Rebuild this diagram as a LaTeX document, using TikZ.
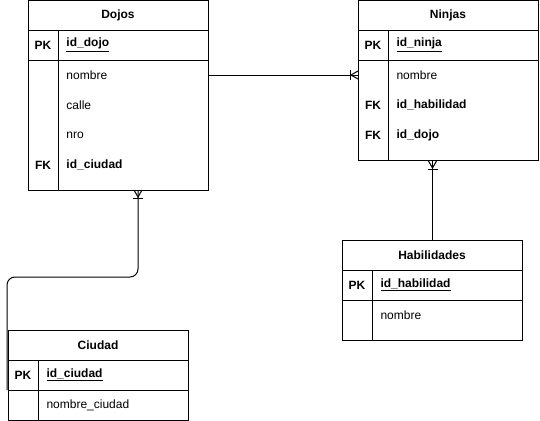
\documentclass[tikz,border=0pt]{standalone}
\usepackage{fontspec}
\setmainfont{Liberation Sans}
\begin{document}
\begin{tikzpicture}[x=0.75pt,y=-0.75pt,line width=0.75pt,
  font=\fontsize{9}{11}\selectfont,
  tbox/.style={draw,inner sep=0pt,anchor=north west},
  ttl/.style={font=\fontsize{9}{11}\selectfont\bfseries,anchor=center},
  key/.style={font=\fontsize{9}{11}\selectfont\bfseries,anchor=center},
  fld/.style={anchor=west,inner sep=0pt},
  bfld/.style={anchor=west,inner sep=0pt,font=\fontsize{9}{11}\selectfont\bfseries}]
\useasboundingbox (0,0) rectangle (540,421);
% ---------- Dojos
\node[tbox,minimum width=135pt,minimum height=142.5pt] (dojos) at (28,0) {};
\draw (28,30) -- (208,30) (28,60) -- (208,60) (58,30) -- (58,190);
\node[ttl] (dojosT) at (118,15) {Dojos};
\node[key] (dojosPK) at (43,45) {PK};
\node[bfld] (dojosId) at (66,45) {\underline{id\_dojo}};
\node[fld] (dojosNombre) at (66,75) {nombre};
\node[fld] (dojosCalle) at (66,105) {calle};
\node[fld] (dojosNro) at (66,135) {nro};
\node[key] (dojosFK) at (43,165) {FK};
\node[bfld] (dojosCiu) at (66,165) {id\_ciudad};
% ---------- Ninjas
\node[tbox,minimum width=135pt,minimum height=120pt] (ninjas) at (358,0) {};
\draw (358,30) -- (538,30) (358,60) -- (538,60) (388,30) -- (388,160);
\node[ttl] (ninjasT) at (448,15) {Ninjas};
\node[key] (ninjasPK) at (373,45) {PK};
\node[bfld] (ninjasId) at (396,45) {\underline{id\_ninja}};
\node[fld] (ninjasNombre) at (396,75) {nombre};
\node[key] (ninjasFK1) at (373,105) {FK};
\node[bfld] (ninjasHab) at (396,105) {id\_habilidad};
\node[key] (ninjasFK2) at (373,135) {FK};
\node[bfld] (ninjasDojo) at (396,135) {id\_dojo};
% ---------- Habilidades
\node[tbox,minimum width=135pt,minimum height=75pt] (habil) at (342,240) {};
\draw (342,270) -- (522,270) (342,300) -- (522,300) (372,270) -- (372,340);
\node[ttl] (habilT) at (432,255) {Habilidades};
\node[key] (habilPK) at (357,285) {PK};
\node[bfld] (habilId) at (380,285) {\underline{id\_habilidad}};
\node[fld] (habilNombre) at (380,315) {nombre};
% ---------- Ciudad
\node[tbox,minimum width=135pt,minimum height=67.5pt] (ciudad) at (8,330) {};
\draw (8,360) -- (188,360) (8,390) -- (188,390) (38,360) -- (38,420);
\node[ttl] (ciudadT) at (98,345) {Ciudad};
\node[key] (ciudadPK) at (23,375) {PK};
\node[bfld] (ciudadId) at (46,375) {\underline{id\_ciudad}};
\node[fld] (ciudadNombre) at (46,405) {nombre\_ciudad};
% ---------- connectors
% Dojos -- Ninjas
\coordinate (dnA) at (208,75);
\coordinate (dnB) at (358,75);
\draw (dnA) -- (dnB);
\draw (dnB) ++(-8,-5) -- ++(0,10);
\draw (dnB) ++(0,-4) -- ++(-7,4) -- ++(7,4);
% Ninjas -- Habilidades
\coordinate (nhA) at (habil.north |- ninjas.south);
\draw (habil.north) -- (nhA);
\draw (nhA) ++(-5,8) -- ++(10,0);
\draw (nhA) ++(-4,0) -- ++(4,7) -- ++(4,-7);
% Dojos -- Ciudad
\coordinate (dcA) at (138,190);
\coordinate (dcB) at (7,390);
\draw[rounded corners=6pt] (dcA) -- (138,277) -- (7,277) -- (dcB);
\draw (dcA) ++(-5,8) -- ++(10,0);
\draw (dcA) ++(-4,0) -- ++(4,7) -- ++(4,-7);
\end{tikzpicture}
\end{document}
